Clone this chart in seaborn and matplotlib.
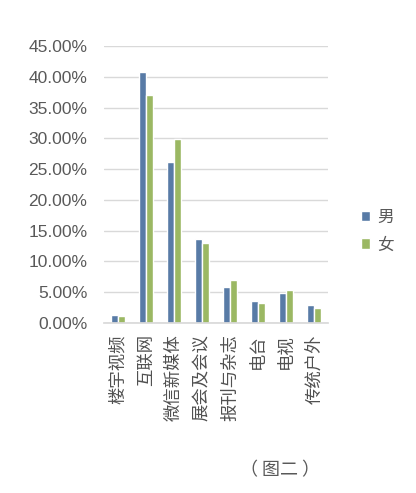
import pandas as pd
import seaborn as sns
import matplotlib
matplotlib.use("Agg")
import matplotlib.pyplot as plt
from matplotlib.ticker import FuncFormatter, MultipleLocator

# 数据：各渠道男女占比（%）
categories = ["楼宇视频", "互联网", "微信新媒体", "展会及会议", "报刊与杂志", "电台", "电视", "传统户外"]
male = [1.3, 40.7, 26.1, 13.6, 5.8, 3.6, 4.9, 2.9]
female = [1.1, 37.0, 29.9, 13.0, 7.0, 3.2, 5.4, 2.5]
genders = ["男", "女"]
colors = ["#587ba6", "#9bb863"]


def set_config():
    sns.set_theme(style="white")
    plt.rcParams["font.family"] = ["Liberation Sans", "Noto Sans CJK SC", "DejaVu Sans"]


def main():
    set_config()
    df = pd.DataFrame({
        "category": categories * 2,
        "value": male + female,
        "gender": [genders[0]] * len(categories) + [genders[1]] * len(categories),
    })

    fig = plt.figure(figsize=(4.16, 4.93), dpi=100)
    ax = fig.add_axes([0.25, 0.3448, 0.538, 0.562])

    sns.barplot(data=df, x="category", y="value", hue="gender", hue_order=genders,
                palette=colors, width=0.5, gap=0.08, saturation=1, ax=ax)

    ax.set_ylim(0, 45)
    ax.yaxis.set_major_locator(MultipleLocator(5))
    ax.yaxis.set_major_formatter(FuncFormatter(lambda v, p: f"{v:.2f}%"))
    ax.grid(axis="y", color="#d9d9d9", linewidth=1)
    ax.set_axisbelow(True)
    for s in ["top", "right", "left"]:
        ax.spines[s].set_visible(False)
    ax.spines["bottom"].set_color("#d9d9d9")
    ax.set_xlabel("")
    ax.set_ylabel("")
    ax.tick_params(axis="y", length=0, pad=12, labelsize=12.5, labelcolor="#595959")
    ax.tick_params(axis="x", length=0, pad=8, labelsize=12.5, labelcolor="#505050")
    plt.setp(ax.get_xticklabels(), rotation=90)

    handles, labels = ax.get_legend_handles_labels()
    ax.legend(handles, labels, loc="center left", bbox_to_anchor=(361 / 416, 1 - 231 / 493),
              bbox_transform=fig.transFigure, frameon=False, fontsize=12,
              handlelength=0.55, handleheight=0.55, handletextpad=0.4,
              labelspacing=0.75, borderpad=0, borderaxespad=0, labelcolor="#595959")

    fig.text(280 / 416, 1 - 470 / 493, "（ 图二 ）", ha="center", va="center",
             fontsize=13, color="#595959", family=["Noto Sans CJK SC"])

    fig.savefig("out.png", dpi=100, facecolor="white")


if __name__ == "__main__":
    main()
